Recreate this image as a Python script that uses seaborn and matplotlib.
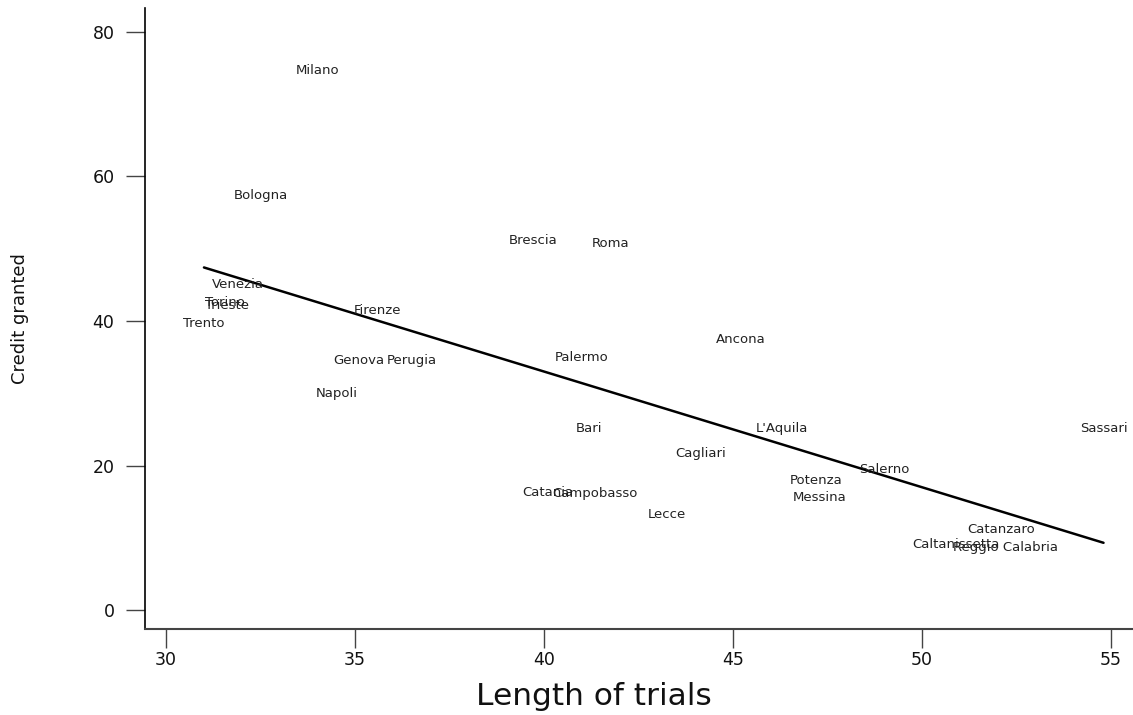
import matplotlib
matplotlib.use("Agg")
import matplotlib.pyplot as plt
import seaborn as sns
import numpy as np
import pandas as pd

cities = ["Milano", "Bologna", "Brescia", "Roma", "Venezia", "Torino", "Trieste",
          "Trento", "Firenze", "Genova", "Perugia", "Napoli", "Palermo", "Ancona",
          "Bari", "L'Aquila", "Sassari", "Cagliari", "Salerno", "Potenza", "Messina",
          "Catania", "Campobasso", "Lecce", "Catanzaro", "Caltanissetta", "Reggio Calabria"]
length_of_trials = [34.0, 32.5, 39.7, 41.75, 31.9, 31.55, 31.6,
                    31.0, 35.6, 35.1, 36.5, 34.5, 41.0, 45.2,
                    41.2, 46.3, 54.8, 44.15, 49.0, 47.2, 47.3,
                    40.1, 41.35, 43.25, 52.1, 50.9, 52.2]
credit_granted = [74.6, 57.3, 51.1, 50.7, 45.0, 42.6, 42.1,
                  39.6, 41.4, 34.5, 34.6, 30.0, 34.9, 37.4,
                  25.2, 25.1, 25.1, 21.7, 19.4, 17.9, 15.6,
                  16.3, 16.1, 13.3, 11.1, 9.1, 8.7]
x_ticks = [30, 35, 40, 45, 50, 55]
y_ticks = [0, 20, 40, 60, 80]

df = pd.DataFrame({"city": cities, "length": length_of_trials, "credit": credit_granted})

sns.set_style("white")
plt.rcParams["font.family"] = ["DejaVu Sans"]

fig = plt.figure(figsize=(11.33, 7.15), dpi=100)
ax = fig.add_axes([145 / 1133, 86 / 715, 988 / 1133, 621 / 715])

sns.regplot(data=df, x="length", y="credit", ax=ax, scatter=False, ci=None,
            color="black", line_kws={"linewidth": 1.8})

for c, xv, yv in zip(df["city"], df["length"], df["credit"]):
    ax.text(xv, yv, c, ha="center", va="center", fontsize=9.5, color="#222222")

ax.set_xlim(29.44, 55.58)
ax.set_ylim(-2.6, 83.3)
ax.set_xticks(x_ticks)
ax.set_yticks(y_ticks)
ax.tick_params(axis="both", bottom=True, left=True, direction="out", length=14,
               width=1, colors="#444444", labelcolor="#111111", labelsize=12.5)
ax.tick_params(axis="x", pad=1.5)
ax.tick_params(axis="y", pad=8)
for s in ["top", "right"]:
    ax.spines[s].set_visible(False)
ax.spines["left"].set_color("black")
ax.spines["bottom"].set_color("#444444")
ax.spines["left"].set_linewidth(1.2)
ax.spines["bottom"].set_linewidth(1.5)

ax.set_xlabel("Length of trials", fontsize=22.5, color="#111111")
ax.xaxis.set_label_coords(0.4545, -0.085)
ax.set_ylabel("Credit granted", fontsize=13, color="#111111")
ax.yaxis.set_label_coords(-0.117, 0.5)

fig.savefig("out.png", dpi=100)
